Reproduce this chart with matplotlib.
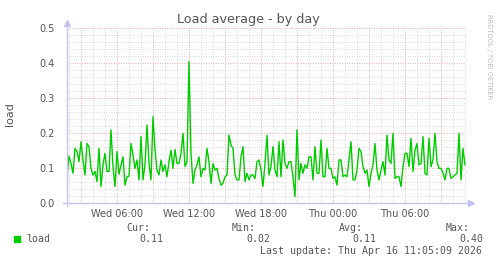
import numpy as np
import matplotlib
matplotlib.use('Agg')
import matplotlib.pyplot as plt
from matplotlib.ticker import MultipleLocator, FixedLocator, NullFormatter

# ---- data (5-min load average, read at 10-minute spacing) ----
load = [
    0.075, 0.134, 0.113, 0.085, 0.156, 0.147, 0.118, 0.175, 0.123, 0.080,
    0.170, 0.161, 0.099, 0.080, 0.090, 0.061, 0.156, 0.047, 0.109, 0.142,
    0.090, 0.090, 0.209, 0.104, 0.047, 0.147,
    0.082, 0.109, 0.132, 0.051, 0.075, 0.077, 0.170, 0.137, 0.099, 0.123,
    0.066, 0.190, 0.066, 0.109, 0.223, 0.113, 0.066, 0.247, 0.151, 0.094,
    0.080, 0.123, 0.090, 0.109, 0.075,
    0.118, 0.151, 0.099, 0.153, 0.113, 0.113, 0.142, 0.199, 0.104, 0.118,
    0.404, 0.142, 0.056, 0.094, 0.109, 0.132, 0.075, 0.099, 0.094, 0.156,
    0.118, 0.056, 0.113, 0.094, 0.099,
    0.070, 0.051, 0.056, 0.075, 0.080, 0.194, 0.166, 0.156, 0.080, 0.066,
    0.066, 0.132, 0.161, 0.061, 0.085, 0.066, 0.080, 0.080, 0.070, 0.118,
    0.123, 0.094, 0.047, 0.113, 0.194,
    0.080, 0.104, 0.161, 0.094, 0.075, 0.175, 0.075, 0.180, 0.113, 0.099,
    0.118, 0.118, 0.075, 0.018, 0.209, 0.066, 0.113, 0.085, 0.109, 0.099,
    0.132, 0.132, 0.066, 0.161, 0.085,
    0.085, 0.180, 0.075, 0.075, 0.156, 0.099, 0.099, 0.070, 0.075, 0.051,
    0.123, 0.123, 0.075, 0.080, 0.075, 0.123, 0.175, 0.066, 0.066, 0.094,
    0.156, 0.147, 0.104, 0.085, 0.094,
    0.047, 0.085, 0.109, 0.170, 0.094, 0.066, 0.094, 0.118, 0.080, 0.194,
    0.123, 0.113, 0.199, 0.070, 0.075, 0.075, 0.047, 0.104, 0.142, 0.142,
    0.104, 0.185, 0.090, 0.151, 0.170,
    0.109, 0.113, 0.190, 0.085, 0.080, 0.185, 0.104, 0.123, 0.199, 0.118,
    0.099, 0.099, 0.085, 0.066, 0.099, 0.099, 0.070, 0.075, 0.080, 0.085,
    0.199, 0.066, 0.156, 0.109,
]
start_hour = 1 + 50 / 60          # Wed 01:50 (hours since Wed 00:00)
step_hours = 10 / 60
window = (1 + 50 / 60, 35 + 5 / 60)  # Wed 01:50 .. Thu 11:05

tick_hours = [6, 12, 18, 24, 30]
tick_labels = ['Wed 06:00', 'Wed 12:00', 'Wed 18:00', 'Thu 00:00', 'Thu 06:00']
y_ticks = [0.0, 0.1, 0.2, 0.3, 0.4, 0.5]

series_name = 'load'
stat_names = ['Cur:', 'Min:', 'Avg:', 'Max:']
stat_values = ['0.11', '0.02', '0.11', '0.40']
last_update = 'Last update: Thu Apr 16 11:05:09 2026'
title = 'Load average - by day'
ylabel = 'load'

# ---- styles ----
W, H = 497, 264
line_color = '#00cc00'
text_color = '#555555'
axis_color = '#c4c4ee'
major_grid = '#eeaaaa'
minor_grid = '#d8d8d8'

hours = start_hour + step_hours * np.arange(len(load))

fig = plt.figure(figsize=(W / 100, H / 100), dpi=100)
fig.patch.set_facecolor('white')
ax = fig.add_axes([67 / W, (H - 203) / H, 399 / W, 175 / H])
ax.set_facecolor('white')

ax.set_xlim(*window)
ax.set_ylim(0, 0.5)

ax.xaxis.set_major_locator(FixedLocator(tick_hours))
ax.set_xticklabels(tick_labels)
ax.xaxis.set_minor_locator(MultipleLocator(1))
ax.yaxis.set_major_locator(FixedLocator(y_ticks))
ax.set_yticklabels([f'{v:.1f}' for v in y_ticks])
ax.yaxis.set_minor_locator(MultipleLocator(0.02))

# grid: minor grey dotted, major red dotted (every 3 h / 0.1)
for h in np.arange(2, 36, 1):
    if h % 3 == 0:
        continue
    ax.axvline(h, color=minor_grid, lw=0.7, ls=(0, (1, 1.5)), zorder=0)
for v in np.arange(0.02, 0.5, 0.02):
    if abs(v * 10 - round(v * 10)) < 1e-6:
        continue
    ax.axhline(v, color=minor_grid, lw=0.7, ls=(0, (1, 1.5)), zorder=0)
for h in np.arange(3, 36, 3):
    ax.axvline(h, color=major_grid, lw=0.7, ls=(0, (1, 1.5)), zorder=0.5)
for v in y_ticks[1:]:
    ax.axhline(v, color=major_grid, lw=0.7, ls=(0, (1, 1.5)), zorder=0.5)

ax.plot(hours, load, color=line_color, lw=1.0, zorder=3, solid_joinstyle='round')

for s in ax.spines.values():
    s.set_visible(False)
# axes lines with arrows
ax.plot([0, 0], [-0.015, 1.03], transform=ax.transAxes, color=axis_color,
        lw=1.0, clip_on=False, zorder=4)
ax.plot([-0.01, 1.012], [0, 0], transform=ax.transAxes, color=axis_color,
        lw=1.0, clip_on=False, zorder=4)
ax.plot([0], [1.03], marker='^', ms=4.5, color=axis_color, transform=ax.transAxes,
        clip_on=False, zorder=4)
ax.plot([1.012], [0], marker='>', ms=4.5, color=axis_color, transform=ax.transAxes,
        clip_on=False, zorder=4)

ax.tick_params(axis='both', which='both', length=0, colors=text_color, labelsize=7)
ax.tick_params(axis='y', pad=9)
ax.tick_params(axis='x', pad=4)
for t in ax.get_xticklabels() + ax.get_yticklabels():
    t.set_color(text_color)

fig.text(248.5 / W, 1 - 19 / H, title, ha='center', va='center',
         fontsize=9.2, color=text_color)
fig.text(10 / W, 1 - 114 / H, ylabel, ha='center', va='center', rotation=90,
         fontsize=8, color=text_color)
fig.text(489 / W, 1 - 57 / H, 'RRDTOOL / TOBI OETIKER', ha='center', va='center',
         rotation=270, fontsize=4.8, color='#bbbbbb')

mono = 'DejaVu Sans Mono'
fig.patches.append(plt.Rectangle((14 / W, 1 - 242 / H), 6 / W, 6 / H,
                                 transform=fig.transFigure, color=line_color))
fig.text(26 / W, 1 - 239.5 / H, series_name, ha='left', va='center',
         family=mono, fontsize=7.1, color=text_color)
name_right = [150, 256, 363, 470]
val_right = [163, 270, 376, 483]
for n, v, nr, vr in zip(stat_names, stat_values, name_right, val_right):
    fig.text(nr / W, 1 - 228 / H, n, ha='right', va='center', family=mono,
             fontsize=7.1, color=text_color)
    fig.text(vr / W, 1 - 239.5 / H, v, ha='right', va='center', family=mono,
             fontsize=7.1, color=text_color)
fig.text(482 / W, 1 - 251 / H, last_update, ha='right', va='center',
         family=mono, fontsize=7.1, color=text_color)

fig.savefig('out.png', dpi=100)
